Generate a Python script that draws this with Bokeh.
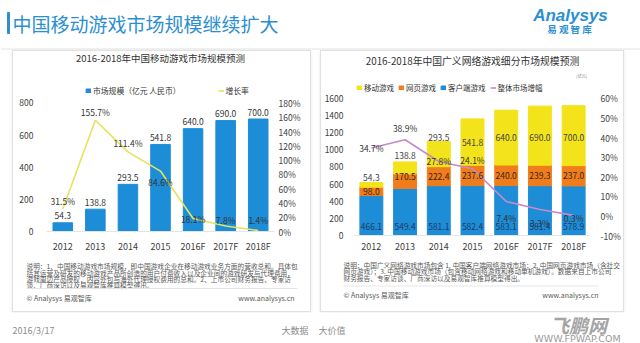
import numpy as np
from bokeh.plotting import figure
from bokeh.models import (ColumnDataSource, Range1d, FactorRange, LinearAxis, FixedTicker,
                          NumeralTickFormatter, Legend, LegendItem, Spacer, Label, BoxAnnotation)
from bokeh.layouts import row, column
from bokeh.core.properties import value
from bokeh.embed import file_html
from bokeh.resources import INLINE

FONT = "Noto Sans CJK SC"

# ---------------- data ----------------
years = ["2012", "2013", "2014", "2015", "2016F", "2017F", "2018F"]
# left chart: China mobile game market size (100M RMB) and growth rate
mobile_size = [54.3, 138.8, 293.5, 541.8, 640.0, 690.0, 700.0]
mobile_growth = [0.315, 1.557, 1.114, 0.846, 0.181, 0.078, 0.014]
# right chart: segments of broad online game market
client_game = [466.1, 549.4, 581.1, 582.4, 583.1, 581.4, 578.9]
web_game = [98.0, 170.5, 222.4, 237.6, 240.0, 239.3, 237.0]
mobile_game = [54.3, 138.8, 293.5, 541.8, 640.0, 690.0, 700.0]
overall_growth = [0.347, 0.389, 0.278, 0.241, 0.074, 0.033, 0.003]
left_ticks = [0, 200, 400, 600, 800]
left_pct_ticks = [0, 0.2, 0.4, 0.6, 0.8, 1.0, 1.2, 1.4, 1.6, 1.8]
right_ticks = [0, 200, 400, 600, 800, 1000, 1200, 1400, 1600]
right_pct_ticks = [-0.1, 0.0, 0.1, 0.2, 0.3, 0.4, 0.5, 0.6]

page_title = "中国移动游戏市场规模继续扩大"
left_title = "2016-2018年中国移动游戏市场规模预测"
right_title = "2016-2018年中国广义网络游戏细分市场规模预测"
left_legend = ["市场规模（亿元 人民币）", "增长率"]
right_legend = ["移动游戏", "网页游戏", "客户端游戏", "整体市场增幅"]
left_notes = [
    "说明：1、中国移动游戏市场规模，即中国游戏企业在移动游戏业务方面的营收总和。具体包",
    "括其运营及研发的移动游戏产品所创造的用户付费收入以及企业间的游戏研发与代理费用，",
    "游戏周边产品授权，内容外包与海外代理授权费用的总和。2、上市公司财务报告、专家访",
    "谈、厂商深访以及易观智库推算模型得出。",
]
right_notes = [
    "说明：中国广义网络游戏市场包含 1. 中国客户端网络游戏市场；2. 中国网页游戏市场（含社交",
    "网页游戏）；3. 中国移动游戏市场（包含移动网络游戏和移动单机游戏）。数据来自上市公司",
    "财务报告、专家访谈、厂商深访以及易观智库推算模型得出。",
]

# ---------------- styles ----------------
TITLE_BLUE = "#2b8fd2"
BAR_BLUE = "#1d8dd7"
ORANGE = "#f07d1c"
YELLOW = "#f3e31a"
LINE_YELLOW = "#e6e25a"
LINE_PURPLE = "#c48bc6"
BORDER = "#e1e1e1"
TXT = "#333333"
AX = "#404040"
NOTE = "#585858"


def canvas(w, h):
    # x/y data units == canvas pixels (frame covers the whole canvas)
    p = figure(width=w, height=h, x_range=Range1d(0, w), y_range=Range1d(h, 0),
               x_axis_type=None, y_axis_type=None, toolbar_location=None, tools="",
               output_backend="svg", min_border=0, outline_line_color=None,
               background_fill_color="white", border_fill_color="white", frame_align=False)
    p.title = None
    return p


def lab(p, x, y, s, size, color=TXT, align="left", baseline="middle", style="normal", font=FONT):
    p.add_layout(Label(x=x, y=y, text=s, text_font=font, text_font_size=size,
                       text_color=color, text_align=align, text_baseline=baseline,
                       text_font_style=style))


def style_axis(ax, size="8.5px", standoff=5):
    ax.axis_line_color = None
    ax.major_tick_line_color = None
    ax.minor_tick_line_color = None
    ax.major_tick_out = 0
    ax.major_tick_in = 0
    ax.major_label_text_font = FONT
    ax.major_label_text_font_size = size
    ax.major_label_text_color = AX
    ax.major_label_standoff = standoff


def vline(h):
    return Spacer(width=1, height=h, styles={"background-color": BORDER})


def hline(w):
    return Spacer(width=w, height=1, styles={"background-color": BORDER})


# ---------------- header ----------------
hdr = canvas(640, 50)
hdr.quad(left=[7], right=[9], top=[12], bottom=[33], color=TITLE_BLUE)
lab(hdr, 12, 22.5, page_title, "19px", TITLE_BLUE)
lab(hdr, 570, 15, "Analysys", "17px", TITLE_BLUE, align="center", style="bold italic", font="Liberation Sans")
lab(hdr, 569, 28.5, "易 观 智 库", "9.5px", TITLE_BLUE, align="center", style="bold")
hdr.segment(x0=[0], y0=[48.5], x1=[640], y1=[48.5], line_color="#e3e3e3", line_width=1)

# ---------------- left chart ----------------
LW, LH = 297, 204
L_Y0, L_PX = 182, 130  # pixel row of value 0, pixel height of 0..800
l_ymax = 800 * L_Y0 / L_PX
l_pmax = 1.8 * L_Y0 / L_PX
pl = figure(width=LW, height=LH, x_range=FactorRange(*years), y_range=Range1d(0, l_ymax),
            toolbar_location=None, tools="", output_backend="svg", frame_align=False,
            min_border_left=33, min_border_right=36, min_border_top=0, min_border_bottom=22,
            outline_line_color=None, background_fill_color="white", border_fill_color="white")
pl.title = None
pl.grid.visible = False
pl.extra_y_ranges = {"pct": Range1d(0, l_pmax)}
pl.yaxis.ticker = FixedTicker(ticks=left_ticks)
style_axis(pl.yaxis[0], "8.5px", 13)
style_axis(pl.xaxis[0], "9px", 8)
pl.xaxis.axis_line_color = "#e4e4e4"
ax_r = LinearAxis(y_range_name="pct", ticker=FixedTicker(ticks=left_pct_ticks),
                  formatter=NumeralTickFormatter(format="0%"))
style_axis(ax_r, "8.5px", 4)
pl.add_layout(ax_r, "right")

src_l = ColumnDataSource(dict(
    year=years, size=mobile_size, growth=mobile_growth,
    size_lbl=[f"{v:.1f}" for v in mobile_size],
    growth_lbl=[f"{v * 100:.1f}%" for v in mobile_growth],
    goff=[-8.5, -8.5, -8.5, 11, 0, -6, -11],
))
bars_l = pl.vbar(x="year", top="size", width=0.6, source=src_l, color=BAR_BLUE)
line_l = pl.line(x="year", y="growth", y_range_name="pct", source=src_l,
                 line_color=LINE_YELLOW, line_width=1.6)
pl.text(x="year", y="size", text="size_lbl", source=src_l, y_offset=-7,
        text_font=value(FONT), text_font_size="8.5px", text_color=TXT,
        text_align="center", text_baseline="middle")
pl.text(x="year", y="growth", text="growth_lbl", source=src_l, y_range_name="pct", y_offset="goff",
        text_font=value(FONT), text_font_size="8.5px", text_color=TXT,
        text_align="center", text_baseline="middle")
pl.text(x=["2015"], y=[(L_Y0 - 6.5) * 800 / L_PX], text=[left_title], text_font=value(FONT),
        text_font_size="9.5px", text_color=TXT, text_align="center", text_baseline="middle")
leg_l = Legend(items=[LegendItem(label=left_legend[0], renderers=[bars_l]),
                      LegendItem(label=left_legend[1], renderers=[line_l])],
               orientation="horizontal", location=(39, 135), padding=0, margin=0, spacing=37,
               label_standoff=2, glyph_width=6, glyph_height=5, label_height=8,
               label_text_font=FONT, label_text_font_size="7.8px", label_text_color=TXT,
               border_line_color=None, background_fill_alpha=0)
pl.add_layout(leg_l)

# ---------------- right chart ----------------
RW, RH = 302, 204
R_Y0, R_PX = 188, 140  # pixel row of value 0, pixel height of 0..1600
r_ymax = 1600 * R_Y0 / R_PX
r_pmax = -0.1 + 0.7 * R_Y0 / R_PX
pr = figure(width=RW, height=RH, x_range=FactorRange(*years), y_range=Range1d(0, r_ymax),
            toolbar_location=None, tools="", output_backend="svg", frame_align=False,
            min_border_left=32, min_border_right=31, min_border_top=0, min_border_bottom=16,
            outline_line_color=None, background_fill_color="white", border_fill_color="white")
pr.title = None
pr.grid.visible = False
pr.extra_y_ranges = {"pct": Range1d(-0.1, r_pmax)}
pr.yaxis.ticker = FixedTicker(ticks=right_ticks)
style_axis(pr.yaxis[0], "8.5px", 11)
style_axis(pr.xaxis[0], "9px", 4)
pr.xaxis.axis_line_color = "#e4e4e4"
ax_r2 = LinearAxis(y_range_name="pct", ticker=FixedTicker(ticks=right_pct_ticks),
                   formatter=NumeralTickFormatter(format="0%"))
style_axis(ax_r2, "8.5px", 10)
pr.add_layout(ax_r2, "right")

c = np.array(client_game)
w = np.array(web_game)
m = np.array(mobile_game)
src_r = ColumnDataSource(dict(
    year=years, client=client_game, web=web_game, mobile=mobile_game, growth=overall_growth,
    zero=[0] * len(years), web_mid=c + w / 2, mob_mid=c + w + m / 2,
    c_lbl=[f"{v:.1f}" for v in client_game], w_lbl=[f"{v:.1f}" for v in web_game],
    m_lbl=[f"{v:.1f}" for v in mobile_game], g_lbl=[f"{v * 100:.1f}%" for v in overall_growth],
    woff=[0, -5, 0, 0, 0, 0, 0], moff=[-7, -12, -17, 0, 0, 2, 2],
    goff=[0, -12, -1, -9, 17, 14, 3],
))
stack = pr.vbar_stack(["client", "web", "mobile"], x="year", width=0.68,
                      color=[BAR_BLUE, ORANGE, YELLOW], source=src_r)
line_r = pr.line(x="year", y="growth", y_range_name="pct", source=src_r,
                 line_color=LINE_PURPLE, line_width=1.6)
pr.text(x="year", y="zero", text="c_lbl", source=src_r, y_offset=-9, text_font=value(FONT),
        text_font_size="8.5px", text_color="#1d3b66", text_align="center", text_baseline="middle")
pr.text(x="year", y="web_mid", text="w_lbl", source=src_r, y_offset="woff", text_font=value(FONT),
        text_font_size="8.5px", text_color="#3a2614", text_align="center", text_baseline="middle")
pr.text(x="year", y="mob_mid", text="m_lbl", source=src_r, y_offset="moff", text_font=value(FONT),
        text_font_size="8.5px", text_color="#444444", text_align="center", text_baseline="middle")
pr.text(x="year", y="growth", text="g_lbl", source=src_r, y_range_name="pct", y_offset="goff",
        text_font=value(FONT), text_font_size="8.5px", text_color=TXT,
        text_align="center", text_baseline="middle")
pr.text(x=["2015"], y=[(R_Y0 - 9.7) * 1600 / R_PX], text=[right_title], text_font=value(FONT),
        text_font_size="9.8px", text_color=TXT, text_align="center", text_baseline="middle")
pr.text(x=["2018F"], y=[(R_Y0 - 25) * 1600 / R_PX], text=["(亿元)"], x_offset=8,
        text_font=value(FONT), text_font_size="4px", text_color="#777777",
        text_align="center", text_baseline="middle")
leg_r = Legend(items=[LegendItem(label=right_legend[0], renderers=[stack[2]]),
                      LegendItem(label=right_legend[1], renderers=[stack[1]]),
                      LegendItem(label=right_legend[2], renderers=[stack[0]]),
                      LegendItem(label=right_legend[3], renderers=[line_r])],
               orientation="horizontal", location=(2, 142), padding=0, margin=0, spacing=4,
               label_standoff=2, glyph_width=6, glyph_height=5, label_height=8,
               label_text_font=FONT, label_text_font_size="7.5px", label_text_color=TXT,
               border_line_color=None, background_fill_alpha=0)
pr.add_layout(leg_r)

# ---------------- notes ----------------
NH = 56
nl = canvas(LW, NH)
for i, s in enumerate(left_notes):
    lab(nl, 13, 10.6 + 6.4 * i, s, "6.7px", NOTE)
nl.add_layout(BoxAnnotation(left=13, right=284, top=32.5, bottom=33.5,
                            fill_color="#e4e4e4", fill_alpha=1, line_color=None))
lab(nl, 13, 42, "© Analysys 易观智库", "7px", NOTE)
lab(nl, 281, 42, "www.analysys.cn", "7px", NOTE, align="right")

nr = canvas(RW, NH)
for i, s in enumerate(right_notes):
    lab(nr, 22, 9 + 6.6 * i, s, "6.7px", NOTE)
nr.add_layout(BoxAnnotation(left=22, right=277, top=30, bottom=31,
                            fill_color="#e8e8e8", fill_alpha=1, line_color=None))
lab(nr, 22, 39, "© Analysys 易观智库", "7px", NOTE)
lab(nr, 277, 39, "www.analysys.cn", "7px", NOTE, align="right")

# ---------------- footer ----------------
ftr = canvas(640, 31)
lab(ftr, 12, 18, "2016/3/17", "9px", "#8c8c8c")
lab(ftr, 308, 18, "大数据", "9px", "#8c8c8c", align="right")
lab(ftr, 318, 18, "大价值", "9px", "#8c8c8c")
lab(ftr, 578, 12, "飞鹏网", "19px", "#a4a4a4", align="center", style="bold italic")
lab(ftr, 577, 25.5, "WWW.FPWAP.COM", "9.5px", "#9a9a9a", align="center", font="DejaVu Sans")

# ---------------- layout ----------------
SHADOW = {"box-shadow": "0 1px 3px rgba(0,0,0,0.10)"}
left_panel = row(vline(262), column(hline(LW), pl, nl, hline(LW)), vline(262), styles=SHADOW)
right_panel = row(vline(262), column(hline(RW), pr, nr, hline(RW)), vline(262), styles=SHADOW)
middle = row(Spacer(width=12, height=262), left_panel, Spacer(width=9, height=262),
             right_panel, Spacer(width=16, height=262))
page = column(hdr, middle, ftr)

open("out.html", "w").write(file_html(page, INLINE))
